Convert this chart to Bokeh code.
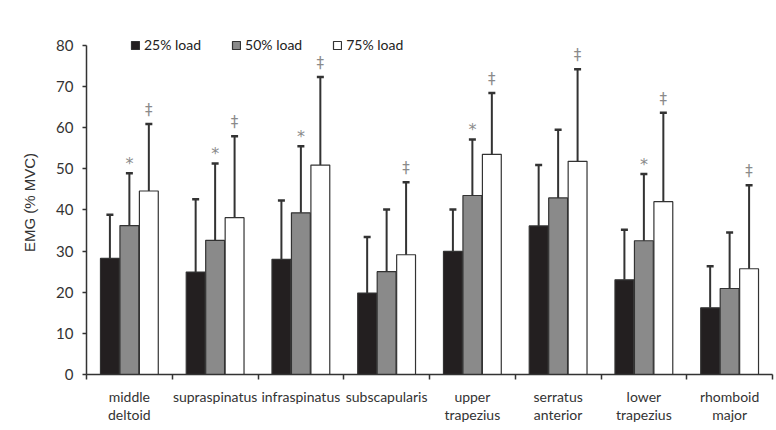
from bokeh.plotting import figure
from bokeh.models import (ColumnDataSource, Range1d, FixedTicker, Whisker, TeeHead,
                          Legend, LegendItem)
from bokeh.core.properties import value
from bokeh.embed import file_html
from bokeh.resources import INLINE

# ---- data ----
muscles = ["middle\ndeltoid", "supraspinatus", "infraspinatus", "subscapularis",
           "upper\ntrapezius", "serratus\nanterior", "lower\ntrapezius", "rhomboid\nmajor"]
series = ["25% load", "50% load", "75% load"]
mean_25 = [28.2, 24.9, 28.0, 19.8, 29.9, 36.1, 23.0, 16.2]
mean_50 = [36.2, 32.6, 39.3, 25.0, 43.5, 42.9, 32.5, 20.9]
mean_75 = [44.6, 38.1, 50.9, 29.1, 53.5, 51.8, 42.0, 25.7]
sd_25 = [10.6, 17.7, 14.3, 13.6, 10.2, 14.8, 12.2, 10.1]
sd_50 = [12.7, 18.7, 16.2, 15.1, 13.6, 16.6, 16.2, 13.6]
sd_75 = [16.3, 19.8, 21.4, 17.6, 14.9, 22.4, 21.6, 20.3]
sig_50 = ["*", "*", "*", "", "*", "", "*", ""]
sig_75 = ["\u2021"] * 8
y_ticks = [0, 10, 20, 30, 40, 50, 60, 70, 80]

# ---- styles ----
fills = ["#231f20", "#8a8a8a", "#ffffff"]
offsets = [-0.227, 0.0, 0.227]
bar_w = 0.22
ink = "#333333"
txt = "#333333"

p = figure(width=776, height=430, output_backend="svg", toolbar_location=None,
           x_range=Range1d(0, 8), y_range=Range1d(0, 83.6),
           min_border_left=86, min_border_right=4, min_border_top=30, min_border_bottom=56)
p.outline_line_color = None
p.xgrid.visible = False
p.ygrid.visible = False
p.background_fill_color = "white"
p.border_fill_color = "white"

means = [mean_25, mean_50, mean_75]
sds = [sd_25, sd_50, sd_75]
items = []
for k in range(3):
    xs = [i + 0.5 + offsets[k] for i in range(len(muscles))]
    src = ColumnDataSource(dict(x=xs, top=means[k],
                                up=[m + s for m, s in zip(means[k], sds[k])]))
    r = p.vbar(x="x", top="top", bottom=0, width=bar_w, source=src,
               fill_color=fills[k], line_color=ink, line_width=1.2)
    items.append(LegendItem(label=series[k], renderers=[r]))
    w = Whisker(base="x", lower="top", upper="up", source=src, dimension="height",
                line_color=ink, line_width=2, lower_head=None,
                upper_head=TeeHead(size=7, line_color=ink, line_width=2.5),
                level="annotation")
    p.add_layout(w)
    if k > 0:
        sig = sig_50 if k == 1 else sig_75
        ssrc = ColumnDataSource(dict(x=xs, y=src.data["up"], t=sig))
        p.text(x="x", y="y", text="t", source=ssrc,
               text_font=value("DejaVu Sans"),
               text_font_size="16px" if k == 1 else "15px",
               text_color="#8a8a8a", text_align="center", text_baseline="middle",
               y_offset=-10 if k == 1 else -14)

# axes
xa = p.xaxis[0]
xa.ticker = FixedTicker(ticks=[i + 0.5 for i in range(8)], minor_ticks=list(range(9)))
xa.major_label_overrides = {i + 0.5: m for i, m in enumerate(muscles)}
xa.major_tick_out = 0
xa.major_tick_in = 0
xa.minor_tick_out = 5
xa.minor_tick_in = 0
xa.minor_tick_line_color = ink
xa.minor_tick_line_width = 1.5
xa.axis_line_color = ink
xa.axis_line_width = 1.5
xa.major_label_standoff = 8
xa.major_label_text_font = "Lato"
xa.major_label_text_font_size = "14px"
xa.major_label_text_line_height = 1.1
xa.major_label_text_color = txt

ya = p.yaxis[0]
ya.bounds = (y_ticks[0], y_ticks[-1])
ya.ticker = FixedTicker(ticks=y_ticks, minor_ticks=[])
ya.major_tick_out = 4
ya.major_tick_in = 0
ya.major_tick_line_color = ink
ya.major_tick_line_width = 1.5
ya.axis_line_color = ink
ya.axis_line_width = 1.5
ya.major_label_standoff = 9
ya.major_label_text_font = "Lato"
ya.major_label_text_font_size = "15px"
ya.major_label_text_color = txt
ya.axis_label = "EMG (% MVC)"
ya.axis_label_text_font = "Liberation Sans"
ya.axis_label_text_font_size = "15px"
ya.axis_label_text_font_style = "normal"
ya.axis_label_text_color = txt
ya.axis_label_standoff = 15

legend = Legend(items=items, orientation="horizontal", location=(44, 321),
                glyph_width=10, glyph_height=10, label_standoff=4, spacing=30,
                padding=0, margin=0, border_line_color=None,
                background_fill_alpha=0,
                label_text_font="Lato", label_text_font_size="14px",
                label_text_color="#222222", label_height=14)
p.add_layout(legend)

open("out.html", "w").write(file_html(p, INLINE))
